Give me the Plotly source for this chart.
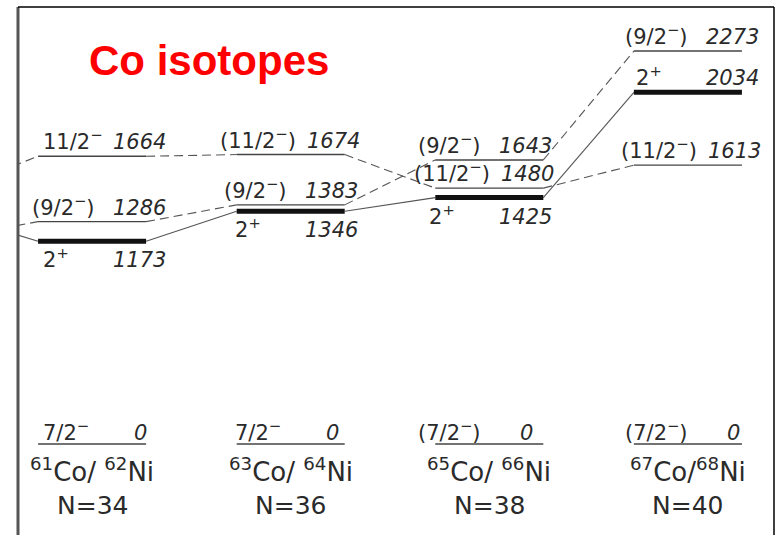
import plotly.graph_objects as go

# Neutron number of each Co/Ni pair; N=32 (59Co/60Ni) sits just left of the frame
neutrons = [32, 34, 36, 38, 40]
iso_labels = ["<sup>59</sup>Co/ <sup>60</sup>Ni", "<sup>61</sup>Co/ <sup>62</sup>Ni",
              "<sup>63</sup>Co/ <sup>64</sup>Ni", "<sup>65</sup>Co/ <sup>66</sup>Ni",
              "<sup>67</sup>Co/<sup>68</sup>Ni"]

# Level energies (keV)
e_2plus = [1333, 1173, 1346, 1425, 2034]    # Ni core 2+ states
e_9half = [1190, 1286, 1383, 1643, 2273]    # Co 9/2- states
e_11half = [1459, 1664, 1674, 1480, 1613]   # Co 11/2- states
e_ground = [0, 0, 0, 0, 0]                  # Co 7/2- ground states

spin_2plus = ["2<sup>+</sup>"] * 5
spin_9half = ["(9/2<sup>−</sup>)"] * 5
spin_11half = ["11/2<sup>−</sup>", "11/2<sup>−</sup>", "(11/2<sup>−</sup>)",
               "(11/2<sup>−</sup>)", "(11/2<sup>−</sup>)"]
spin_ground = ["7/2<sup>−</sup>", "7/2<sup>−</sup>", "7/2<sup>−</sup>",
               "(7/2<sup>−</sup>)", "(7/2<sup>−</sup>)"]

HW = 0.544            # half width of a level bar, in N units
FIRST_SHOWN = 34      # columns drawn with labels
TXT = "#2a2a2a"
FONT = "DejaVu Sans"
LSIZE = 21
# small horizontal nudges (px) of each column's text block
COL_NUDGE = {34: 3, 36: -4, 38: -8, 40: 0}

fig = go.Figure()


def level_trace(energies, width, color):
    xs, ys = [], []
    for n, e in zip(neutrons, energies):
        xs += [n - HW, n + HW, None]
        ys += [e, e, None]
    fig.add_trace(go.Scatter(x=xs, y=ys, mode="lines", hoverinfo="skip",
                             line=dict(color=color, width=width)))


def link_trace(energies, dash):
    xs, ys = [], []
    for i in range(len(neutrons) - 1):
        xs += [neutrons[i] + HW, neutrons[i + 1] - HW, None]
        ys += [energies[i], energies[i + 1], None]
    fig.add_trace(go.Scatter(x=xs, y=ys, mode="lines", hoverinfo="skip",
                             line=dict(color="#555555", width=1.1, dash=dash)))


# connecting lines between systematics
link_trace(e_11half, "9px,5px")
link_trace(e_9half, "9px,5px")
link_trace(e_2plus, "solid")

# level bars
level_trace(e_ground, 1.4, "#444444")
level_trace(e_11half, 1.4, "#444444")
level_trace(e_9half, 1.4, "#444444")
level_trace(e_2plus, 5, "#111111")

ann = []


def label(n, e, spin, below=False, ground=False, wide=False):
    col_shift = COL_NUDGE.get(n, 0)
    paren = spin.startswith("(")
    if below:
        ys = -33
    elif ground:
        ys = -3
    else:
        ys = 0
    if ground:
        e_shift = 0
    elif wide and paren:
        e_shift = 21
    else:
        e_shift = 19
    s_shift = (-15 if wide else -11) if paren else 0
    ann.append(dict(x=n - HW, y=e, text=spin, xanchor="left", yanchor="bottom",
                    xshift=s_shift + col_shift, yshift=ys,
                    showarrow=False, font=dict(family=FONT, size=LSIZE, color=TXT)))
    ann.append(dict(x=n + HW, y=e, text="<i>%d</i>" % e, xanchor="right",
                    yanchor="bottom", xshift=e_shift + col_shift, yshift=ys,
                    showarrow=False, font=dict(family=FONT, size=LSIZE, color=TXT)))


for i, n in enumerate(neutrons):
    if n < FIRST_SHOWN:
        continue
    label(n, e_11half[i], spin_11half[i], wide=True)
    label(n, e_9half[i], spin_9half[i])
    label(n, e_2plus[i], spin_2plus[i], below=(n != 40))
    label(n, e_ground[i], spin_ground[i], ground=True)
    ann.append(dict(x=n, y=-150, text=iso_labels[i], showarrow=False,
                    xanchor="center", yanchor="middle",
                    font=dict(family=FONT, size=26, color=TXT)))
    ann.append(dict(x=n, y=-353, text="N=%d" % n, showarrow=False,
                    xanchor="center", yanchor="middle",
                    font=dict(family=FONT, size=25, color=TXT)))

ann.append(dict(x=0.0913, y=0.8987, xref="paper", yref="paper", text="<b>Co isotopes</b>",
                showarrow=False, xanchor="left", yanchor="middle",
                font=dict(family="Liberation Sans", size=42, color="#ff0000")))

fig.update_layout(
    width=778, height=535,
    margin=dict(l=18, r=4, t=7, b=0),
    paper_bgcolor="white", plot_bgcolor="white",
    showlegend=False,
    xaxis=dict(range=[33.254, 40.867], visible=False),
    yaxis=dict(range=[-526.3, 2527.5], visible=False),
    annotations=ann,
    shapes=[
        dict(type="line", xref="paper", yref="paper", x0=0, x1=0, y0=0, y1=1,
             line=dict(color="#555555", width=3)),
        dict(type="line", xref="paper", yref="paper", x0=0, x1=1, y0=1, y1=1,
             line=dict(color="#000000", width=1.5)),
        dict(type="line", xref="paper", yref="paper", x0=1, x1=1, y0=0, y1=1,
             line=dict(color="#000000", width=1.5)),
    ],
)

fig.write_html("out.html")
